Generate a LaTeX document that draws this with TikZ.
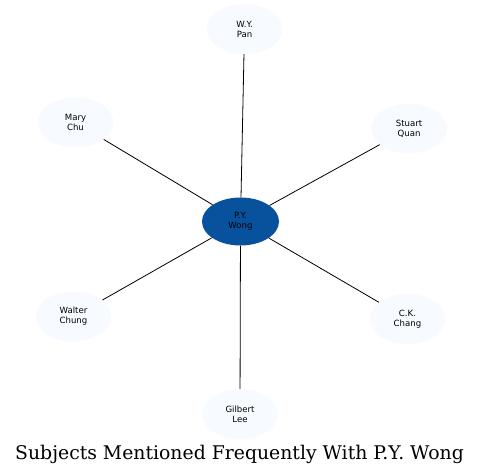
\documentclass[tikz,border=0pt]{standalone}
\usepackage{fontspec}
\usepackage{xcolor}
\newfontfamily\labelfont{DejaVu Sans}
\newfontfamily\captionfont{DejaVu Serif}
\definecolor{hubblue}{HTML}{08519C}
\definecolor{paleblue}{HTML}{F7FBFF}
\tikzset{
  person/.style={ellipse,fill=paleblue,inner sep=0pt,minimum width=76bp,
    minimum height=50bp,align=center,font=\labelfont\fontsize{8.6}{10}\selectfont},
  hub/.style={person,fill=hubblue,minimum width=77bp,minimum height=48bp},
  link/.style={draw=black,line width=0.8bp},
}
\usetikzlibrary{shapes.geometric}
\begin{document}
\begin{tikzpicture}[x=1bp,y=-1bp]
\useasboundingbox (0,0) rectangle (481,476);
% hub
\node[hub] (wong) at (240.5,221.5) {P.Y.\\Wong};
% people round the hub
\node[person] (pan) at (244.5,29) {W.Y.\\Pan};
\node[person] (chu) at (75.5,122.5) {Mary\\Chu};
\node[person] (quan) at (409,128.5) {Stuart\\Quan};
\node[person] (chung) at (73.5,316.5) {Walter\\Chung};
\node[person] (chang) at (407.5,319) {C.K.\\Chang};
\node[person] (lee) at (240,414) {Gilbert\\Lee};
\foreach \p in {pan,chu,quan,chung,chang,lee}
  \draw[link] (wong) -- (\p);
% caption
\node[font=\captionfont\fontsize{18.9}{22}\selectfont] (title) at (239.5,454) {Subjects Mentioned Frequently With P.Y. Wong};
\end{tikzpicture}
\end{document}
